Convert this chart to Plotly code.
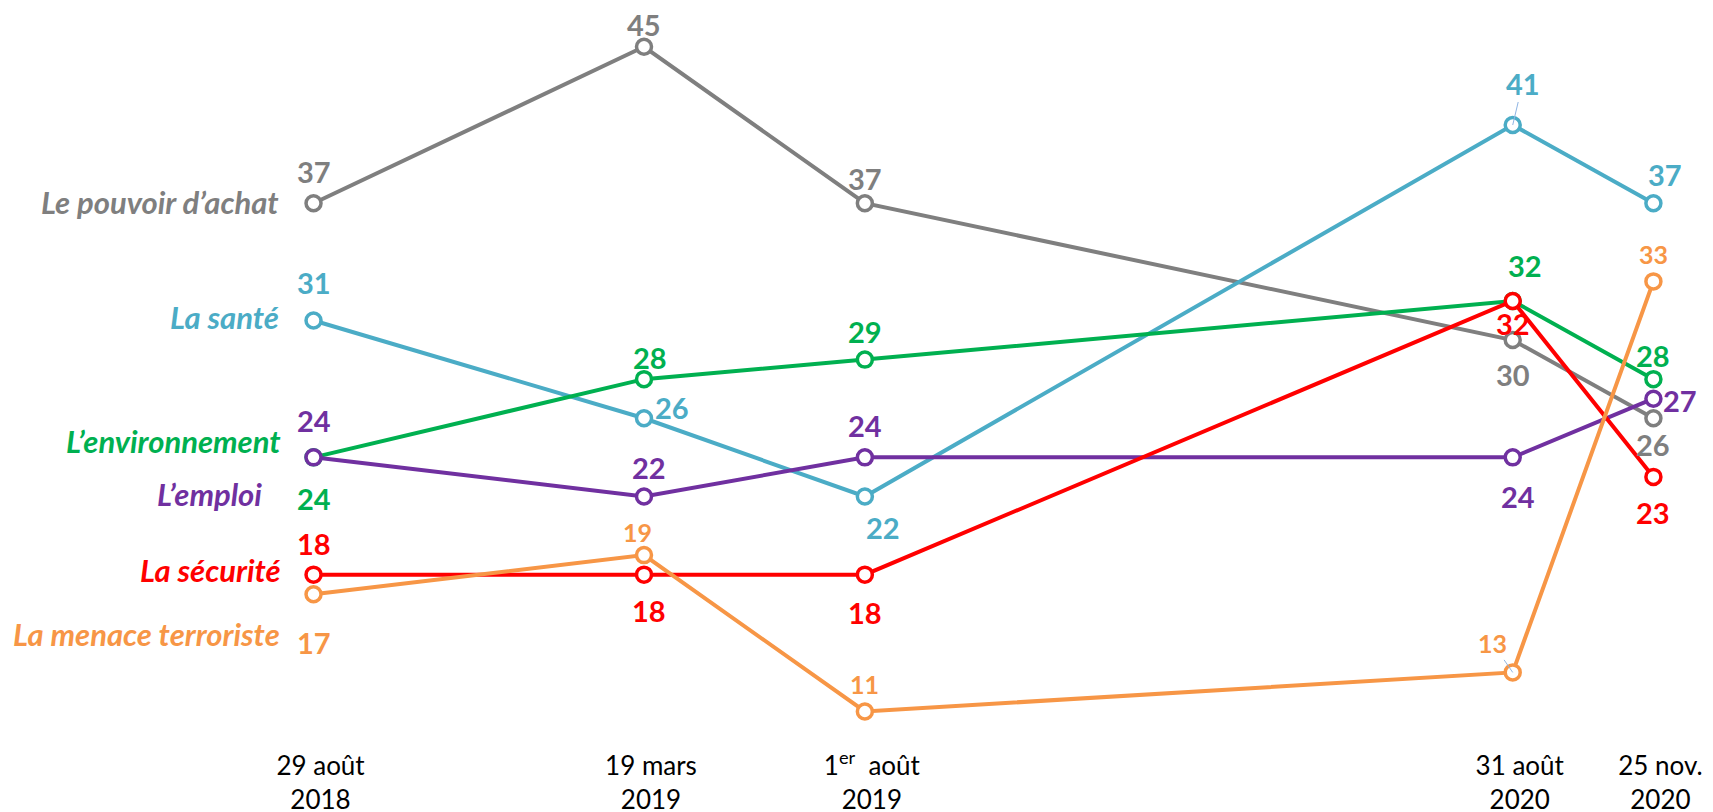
import plotly.graph_objects as go
import pandas as pd

# ---------------- data ----------------
dates = ["2018-08-29", "2019-03-19", "2019-08-01", "2020-08-31", "2020-11-25"]
tick_labels = ["29 août<br>2018", "19 mars<br>2019", "1<sup>er</sup>\u00a0 août<br>2019",
               "31 août<br>2020", "25 nov.<br>2020"]

series_names = ["Le pouvoir d’achat", "La santé", "L’environnement", "L’emploi",
                "La sécurité", "La menace terroriste"]
pouvoir_achat = [37, 45, 37, 30, 26]
sante = [31, 26, 22, 41, 37]
environnement = [24, 28, 29, 32, 28]
emploi = [24, 22, 24, 24, 27]
securite = [18, 18, 18, 32, 23]
menace_terroriste = [17, 19, 11, 13, 33]

# ---------------- styles ----------------
colors = ["#7F7F7F", "#4BACC6", "#00B050", "#7030A0", "#FF0000", "#F79646"]
values = [pouvoir_achat, sante, environnement, emploi, securite, menace_terroriste]

# label offsets (dx, dy) in screen px (dy positive = down)
label_offsets = [
    [(0, -32), (0, -22), (0, -25), (0, 34), (0, 26)],
    [(0, -38), (28, -11), (18, 31), (10, -42), (12, -29)],
    [(0, 41), (6, -22), (0, -28), (12, -35), (0, -24)],
    [(0, -37), (5, -29), (0, -32), (5, 39), (27, 2)],
    [(0, -31), (5, 36), (0, 38), (0, 23), (0, 36)],
    [(0, 48), (-7, -23), (0, -28), (-20, -29), (0, -27)],
]
leader = {(1, 3), (5, 3)}
small_font = {(5, 1), (5, 2), (5, 3), (5, 4)}

# series-name labels at left: (right-edge shift, dy) relative to first point
name_offsets = [(-33, -1), (-33, -4), (-31, -16), (-50, 37), (-31, -5), (-32, 40)]

FONT = "Lato"
px_per_day = 1.636
anchor = pd.Timestamp("2019-03-19")
anchor_px = 636
W, H = 1713, 812
x0 = anchor - pd.Timedelta(days=anchor_px / px_per_day)
x1 = anchor + pd.Timedelta(days=(W - anchor_px) / px_per_day)

px_per_unit = 19.55
v_top = 41 + 117 / px_per_unit
bottom_margin = 72
v_bottom = v_top - (H - bottom_margin) / px_per_unit

fig = go.Figure()
for name, vals, col in zip(series_names, values, colors):
    fig.add_trace(go.Scatter(
        x=dates, y=vals, mode="lines+markers", name=name,
        line=dict(color=col, width=4),
        marker=dict(symbol="circle", size=15, color="white",
                    line=dict(color=col, width=3.5)),
        hoverinfo="skip", showlegend=False, cliponaxis=False,
    ))

annotations = []
for si, (vals, col) in enumerate(zip(values, colors)):
    for pi, (d, v) in enumerate(zip(dates, vals)):
        dx, dy = label_offsets[si][pi]
        size = 25 if (si, pi) in small_font else 29
        font = dict(family=FONT, size=size, color=col, weight="bold")
        if (si, pi) in leader:
            annotations.append(dict(
                x=d, y=v, xref="x", yref="y", text=str(v), font=font,
                showarrow=True, arrowhead=0, arrowwidth=1, arrowcolor="#8EB4E3",
                ax=dx, ay=dy, standoff=0, startstandoff=0,
            ))
        else:
            annotations.append(dict(
                x=d, y=v, xref="x", yref="y", text=str(v), font=font,
                showarrow=False, xshift=dx, yshift=-dy,
            ))

for name, vals, col, (sx, sy) in zip(series_names, values, colors, name_offsets):
    annotations.append(dict(
        x=dates[0], y=vals[0], xref="x", yref="y", text=name,
        font=dict(family=FONT, size=31, color=col, weight="bold", style="italic"),
        showarrow=False, xanchor="right", xshift=sx, yshift=-sy,
    ))

fig.update_layout(
    width=W, height=H, autosize=False,
    margin=dict(l=0, r=0, t=0, b=bottom_margin),
    paper_bgcolor="white", plot_bgcolor="white",
    annotations=annotations,
    xaxis=dict(type="date", range=[x0, x1], tickvals=dates, ticktext=tick_labels,
               showgrid=False, zeroline=False, showline=False, ticks="",
               ticklabelshift=7,
               tickfont=dict(family=FONT, size=26, color="black"), tickangle=0),
    yaxis=dict(range=[v_bottom, v_top], visible=False, showgrid=False, zeroline=False),
    font=dict(family=FONT),
)

fig.write_html("out.html")
